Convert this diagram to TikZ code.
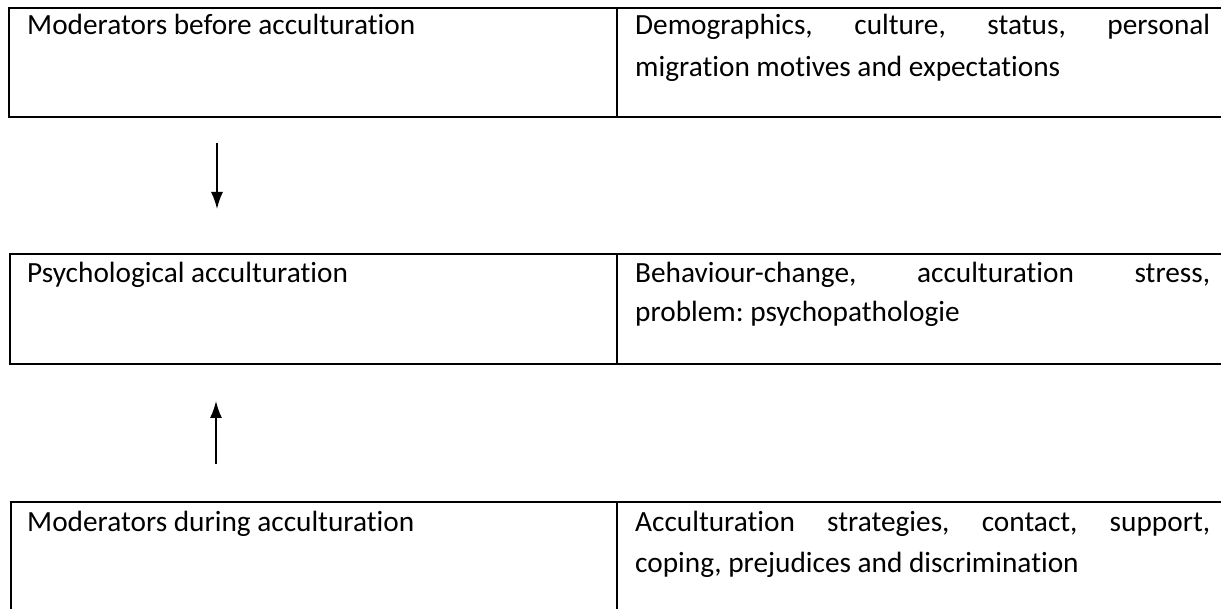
\documentclass[tikz,border=0pt]{standalone}
\usepackage{fontspec}
\setmainfont{Carlito}[Ligatures=NoCommon]
\usetikzlibrary{arrows.meta}
\frenchspacing
\begin{document}
\begin{tikzpicture}[x=1pt,y=-1pt,
  rule/.style={line width=1.8pt},
  celltext/.style={anchor=base west,inner sep=0pt,font=\fontsize{29.3}{42}\selectfont},
  flow/.style={line width=1.6pt,-{Latex[length=17pt,width=12pt]}}]
\useasboundingbox (0,0) rectangle (1221,609);
\clip (0,0) rectangle (1221,609);
\fill[white] (0,0) rectangle (1221,609);

% upper table
\draw[rule] (1240,8) -- (9,8) -- (9,117) -- (1240,117);
\draw[rule] (617,8) -- (617,117);
\node[celltext] (before) at (27,35) {Moderators before acculturation};
\node[celltext] (beforeA) at (635,35) {\makebox[575pt][s]{Demographics,\hfill culture,\hfill status,\hfill personal}};
\node[celltext] (beforeB) at (635,77) {migration motives and expectations};

% middle table
\draw[rule] (1240,254) -- (10,254) -- (10,364) -- (1240,364);
\draw[rule] (617,254) -- (617,364);
\node[celltext] (psych) at (27,283) {Psychological acculturation};
\node[celltext] (psychA) at (635,283) {\makebox[575pt][s]{Behaviour-change,\hfill acculturation\hfill stress,}};
\node[celltext] (psychB) at (635,322) {problem: psychopathologie};

% lower table
\draw[rule] (11,620) -- (11,502) -- (1240,502);
\draw[rule] (617,502) -- (617,620);
\node[celltext] (during) at (27,531) {Moderators during acculturation};
\node[celltext] (duringA) at (635,531) {\makebox[575pt][s]{Acculturation\hfill strategies,\hfill contact,\hfill support,}};
\node[celltext] (duringB) at (635,572) {coping, prejudices and discrimination};

% arrows between the tables
\coordinate (downS) at (217,143);
\coordinate (downE) at (217,209);
\coordinate (upS) at (216,464);
\coordinate (upE) at (216,401);
\draw[flow] (downS) -- (downE);
\draw[flow] (upS) -- (upE);
\end{tikzpicture}
\end{document}
